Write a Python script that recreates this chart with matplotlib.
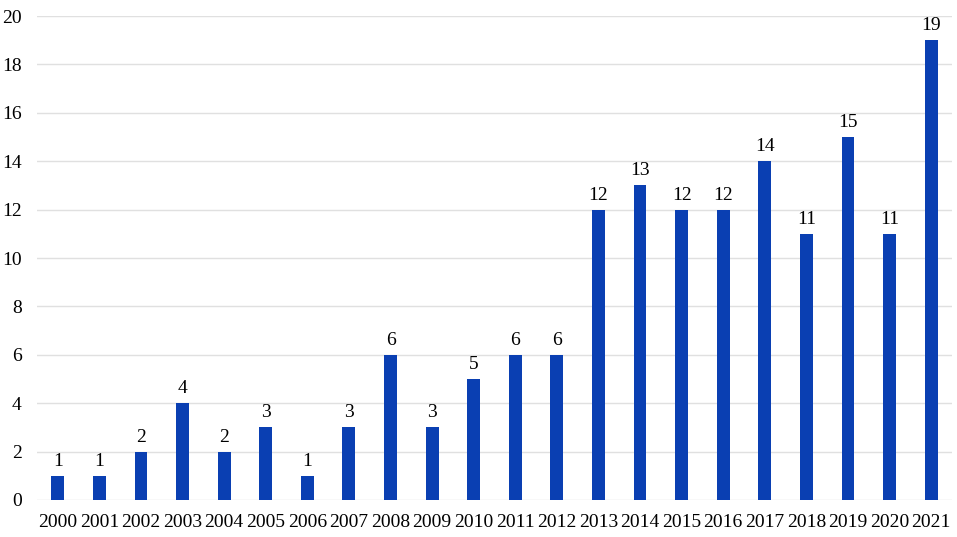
import matplotlib
matplotlib.use("Agg")
import matplotlib.pyplot as plt

years = [str(y) for y in range(2000, 2022)]
counts = [1, 1, 2, 4, 2, 3, 1, 3, 6, 3, 5, 6, 6, 12, 13, 12, 12, 14, 11, 15, 11, 19]
y_ticks = list(range(0, 21, 2))

BAR_COLOR = "#0A3FB2"
plt.rcParams["font.family"] = ["Liberation Serif", "DejaVu Serif"]

fig = plt.figure(figsize=(9.57, 5.37), dpi=100)
ax = fig.add_axes([0.0387, 0.069, 0.956, 0.901])

x = range(len(years))
bars = ax.bar(x, counts, width=0.31, color=BAR_COLOR, zorder=3)
for b, v in zip(bars, counts):
    ax.text(b.get_x() + b.get_width() / 2, v + 0.25, str(v),
            ha="center", va="bottom", fontsize=14, color="black")

ax.set_xlim(-0.5, len(years) - 0.5)
ax.set_ylim(0, 20)
ax.set_yticks(y_ticks)
ax.set_xticks(list(x))
ax.set_xticklabels(years)
ax.tick_params(axis="both", length=0, labelsize=14, colors="black")
ax.tick_params(axis="y", pad=11)
ax.tick_params(axis="x", pad=10)
ax.grid(axis="y", color="#E0E0E0", linewidth=1, zorder=0)
for s in ax.spines.values():
    s.set_visible(False)

plt.savefig("out.png", dpi=100)
plt.close()
